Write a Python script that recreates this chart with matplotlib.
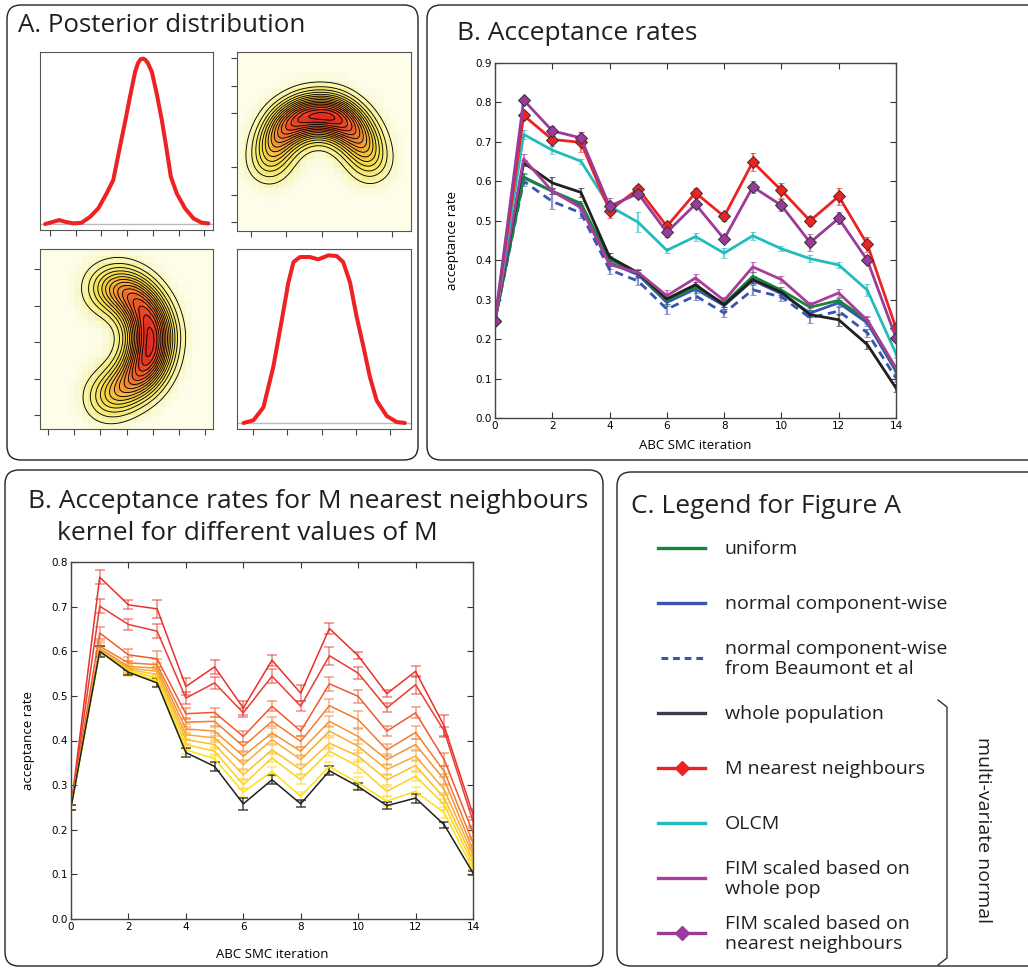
import numpy as np
import matplotlib
matplotlib.use('Agg')
import matplotlib.pyplot as plt
from matplotlib.patches import FancyBboxPatch
from matplotlib.colors import LinearSegmentedColormap, to_rgba

W, H = 1028, 968

# ---- panel A: marginal posteriors (theta1, theta2) ----
t1_x = [-0.19, 0.13, 0.36, 0.58, 0.91, 1.23, 1.56, 1.88, 2.20, 2.46, 2.72, 2.92,
        3.11, 3.31, 3.42, 3.52, 3.61, 3.70, 3.80, 3.96, 4.15, 4.35, 4.54, 4.70,
        4.93, 5.25, 5.58, 5.90, 6.16]
t1_y = [0.0, 0.014, 0.024, 0.014, 0.004, 0.008, 0.044, 0.095, 0.185, 0.266, 0.467,
        0.618, 0.769, 0.920, 0.972, 0.996, 1.0, 0.994, 0.975, 0.920, 0.789, 0.628,
        0.447, 0.286, 0.185, 0.095, 0.034, 0.008, 0.004]
t2_x = [-0.28, 0.01, 0.30, 0.59, 0.84, 1.03, 1.18, 1.37, 1.66, 1.90, 2.20, 2.44,
        2.63, 2.83, 3.02, 3.22, 3.41, 3.61, 3.90, 4.19, 4.43]
t2_y = [0.0, 0.016, 0.093, 0.335, 0.618, 0.840, 0.962, 0.992, 0.992, 0.978, 1.002,
        0.998, 0.962, 0.840, 0.638, 0.457, 0.275, 0.133, 0.042, 0.006, 0.0]

# joint posterior ridges: (cx, cy, weight)
# x = theta2, y = theta1 (arch)
joint_21 = [(0.50, 2.20, 0.35), (0.68, 2.92, 0.60), (1.00, 3.52, 0.85),
            (1.48, 3.85, 1.0), (1.97, 3.95, 0.90), (2.42, 3.85, 0.95),
            (2.84, 3.47, 0.80), (3.17, 2.90, 0.60), (3.40, 2.22, 0.35)]
joint_21_sd = (0.38, 0.52)
# x = theta1, y = theta2 (crescent)
joint_12 = [(2.15, 3.48, 0.30), (2.78, 3.48, 0.50), (3.36, 3.20, 0.70),
            (3.79, 2.73, 0.85), (3.99, 2.18, 0.95), (3.85, 1.59, 1.0),
            (3.48, 1.07, 0.75), (2.84, 0.70, 0.50), (2.20, 0.46, 0.30)]
joint_12_sd = (0.56, 0.42)

# ---- panel B: acceptance rates per kernel ----
iters = list(range(15))
uniform = [0.247, 0.609, 0.575, 0.544, 0.402, 0.366, 0.298, 0.332, 0.290, 0.359,
           0.324, 0.281, 0.298, 0.248, 0.123]
uniform_err = [0.004, 0.010, 0.008, 0.006, 0.008, 0.008, 0.008, 0.008, 0.008, 0.010,
               0.008, 0.006, 0.006, 0.008, 0.008]
normal_cw = [0.247, 0.611, 0.575, 0.537, 0.393, 0.363, 0.293, 0.327, 0.285, 0.349,
             0.315, 0.266, 0.292, 0.241, 0.118]
normal_cw_err = [0.004, 0.010, 0.008, 0.008, 0.008, 0.008, 0.008, 0.010, 0.008, 0.010,
                 0.008, 0.008, 0.008, 0.008, 0.008]
beaumont = [0.247, 0.600, 0.549, 0.520, 0.376, 0.347, 0.276, 0.310, 0.266, 0.325,
            0.307, 0.254, 0.271, 0.216, 0.101]
beaumont_err = [0.004, 0.012, 0.018, 0.012, 0.012, 0.010, 0.012, 0.012, 0.010, 0.012,
                0.010, 0.012, 0.010, 0.010, 0.010]
whole_pop = [0.247, 0.647, 0.596, 0.572, 0.408, 0.368, 0.302, 0.338, 0.287, 0.351,
             0.319, 0.262, 0.249, 0.186, 0.076]
whole_pop_err = [0.004, 0.008, 0.015, 0.012, 0.010, 0.008, 0.006, 0.006, 0.006, 0.008,
                 0.006, 0.006, 0.015, 0.010, 0.010]
fim_pop = [0.247, 0.657, 0.575, 0.533, 0.389, 0.369, 0.310, 0.355, 0.298, 0.383,
           0.351, 0.287, 0.317, 0.248, 0.127]
fim_pop_err = [0.004, 0.012, 0.008, 0.008, 0.012, 0.010, 0.014, 0.010, 0.010, 0.012,
               0.010, 0.008, 0.010, 0.010, 0.008]
olcm = [0.247, 0.719, 0.679, 0.651, 0.537, 0.496, 0.425, 0.460, 0.418, 0.462,
        0.429, 0.404, 0.388, 0.324, 0.163]
olcm_err = [0.004, 0.012, 0.010, 0.006, 0.008, 0.025, 0.006, 0.010, 0.012, 0.010,
            0.006, 0.008, 0.008, 0.015, 0.010]
m_nn = [0.247, 0.767, 0.706, 0.699, 0.526, 0.581, 0.486, 0.571, 0.511, 0.649,
        0.577, 0.500, 0.562, 0.440, 0.228]
m_nn_err = [0.004, 0.010, 0.008, 0.025, 0.020, 0.010, 0.010, 0.012, 0.012, 0.022,
            0.018, 0.012, 0.022, 0.020, 0.010]
fim_nn = [0.247, 0.806, 0.728, 0.710, 0.537, 0.569, 0.471, 0.542, 0.454, 0.586,
          0.539, 0.445, 0.506, 0.400, 0.203]
fim_nn_err = [0.004, 0.006, 0.012, 0.015, 0.020, 0.010, 0.012, 0.008, 0.008, 0.015,
              0.015, 0.022, 0.015, 0.006, 0.006]

# ---- panel B (bottom): M nearest neighbours, one row per value of M ----
nn_rates = [
    [0.250, 0.766, 0.704, 0.695, 0.521, 0.565, 0.473, 0.580, 0.506, 0.651, 0.590, 0.505, 0.555, 0.432, 0.234],
    [0.250, 0.701, 0.660, 0.645, 0.495, 0.529, 0.462, 0.544, 0.477, 0.590, 0.551, 0.473, 0.525, 0.421, 0.219],
    [0.250, 0.641, 0.592, 0.583, 0.460, 0.463, 0.409, 0.477, 0.421, 0.527, 0.499, 0.421, 0.462, 0.357, 0.193],
    [0.250, 0.611, 0.574, 0.570, 0.441, 0.443, 0.387, 0.443, 0.398, 0.478, 0.447, 0.379, 0.418, 0.331, 0.170],
    [0.250, 0.606, 0.566, 0.562, 0.426, 0.421, 0.365, 0.417, 0.376, 0.443, 0.409, 0.357, 0.391, 0.312, 0.155],
    [0.250, 0.602, 0.562, 0.555, 0.413, 0.406, 0.346, 0.402, 0.357, 0.421, 0.387, 0.335, 0.365, 0.290, 0.144],
    [0.250, 0.600, 0.559, 0.548, 0.402, 0.391, 0.323, 0.379, 0.335, 0.394, 0.365, 0.312, 0.344, 0.271, 0.133],
    [0.250, 0.600, 0.557, 0.540, 0.391, 0.376, 0.301, 0.361, 0.312, 0.376, 0.342, 0.286, 0.320, 0.256, 0.122],
    [0.250, 0.600, 0.555, 0.533, 0.379, 0.359, 0.284, 0.331, 0.275, 0.342, 0.305, 0.264, 0.286, 0.238, 0.111],
]
nn_err = [
    [0.006, 0.015, 0.010, 0.020, 0.020, 0.016, 0.015, 0.012, 0.018, 0.012, 0.008, 0.008, 0.012, 0.025, 0.012],
    [0.006, 0.016, 0.012, 0.016, 0.014, 0.014, 0.010, 0.016, 0.012, 0.020, 0.014, 0.010, 0.020, 0.010, 0.010],
    [0.006, 0.014, 0.014, 0.018, 0.012, 0.010, 0.012, 0.012, 0.012, 0.016, 0.014, 0.012, 0.012, 0.014, 0.010],
    [0.006, 0.012, 0.012, 0.012, 0.010, 0.010, 0.010, 0.010, 0.012, 0.014, 0.018, 0.014, 0.014, 0.012, 0.010],
    [0.006, 0.012, 0.012, 0.012, 0.010, 0.010, 0.010, 0.010, 0.010, 0.012, 0.016, 0.012, 0.012, 0.012, 0.010],
    [0.006, 0.010, 0.010, 0.010, 0.010, 0.010, 0.010, 0.010, 0.010, 0.012, 0.014, 0.012, 0.012, 0.012, 0.010],
    [0.006, 0.010, 0.010, 0.010, 0.010, 0.010, 0.010, 0.010, 0.010, 0.012, 0.014, 0.012, 0.012, 0.012, 0.010],
    [0.006, 0.010, 0.010, 0.010, 0.010, 0.010, 0.010, 0.010, 0.010, 0.010, 0.014, 0.010, 0.010, 0.012, 0.010],
    [0.006, 0.010, 0.010, 0.010, 0.010, 0.010, 0.010, 0.010, 0.010, 0.010, 0.014, 0.010, 0.010, 0.012, 0.010],
]
whole_nn = [0.250, 0.600, 0.553, 0.529, 0.373, 0.342, 0.258, 0.312, 0.258, 0.332,
            0.297, 0.254, 0.271, 0.211, 0.103]
whole_nn_err = [0.006, 0.012, 0.006, 0.010, 0.010, 0.010, 0.014, 0.010, 0.008, 0.010,
                0.008, 0.008, 0.010, 0.006, 0.004]

legend_labels = ['uniform', 'normal component-wise',
                 'normal component-wise\nfrom Beaumont et al', 'whole population',
                 'M nearest neighbours', 'OLCM', 'FIM scaled based on\nwhole pop',
                 'FIM scaled based on\nnearest neighbours']

TITLE_FONT = 'Open Sans'
plt.rcParams['font.family'] = ['DejaVu Sans']

C_GREEN = '#16853c'
C_BLUE = '#3a55b0'
C_BLACK = '#202020'
C_LEGBLACK = '#3a3d52'
C_RED = '#ee2222'
C_CYAN = '#22bcbc'
C_MAG = '#aa3c9c'
C_PURP = '#9a3a9a'
NN_COLORS = ['#e8302a', '#ea3c30', '#ee5a2e', '#f27a32', '#f59236', '#f8aa32',
             '#fbbf28', '#fdd21c', '#fee012']

dens_cmap = LinearSegmentedColormap.from_list(
    'post', [(0.0, '#fdfde9'), (0.04, '#f9f6bc'), (0.10, '#f6ef88'),
             (0.24, '#f4e04c'), (0.40, '#f3bd3c'), (0.56, '#f09034'),
             (0.75, '#eb5e2b'), (1.0, '#e2261f')])


def rect(x0, y0, x1, y1):
    return [x0 / W, 1 - y1 / H, (x1 - x0) / W, (y1 - y0) / H]


def style_a(ax, left):
    for s in ax.spines.values():
        s.set_color('#555555')
        s.set_linewidth(0.8)
    ax.tick_params(direction='out', length=4, width=0.8, color='#444444',
                   labelbottom=False, labelleft=False, left=left)


def marginal(ax, x, y, xlim, ticks):
    ax.axhline(0, color='#bbbbbb', lw=1.0, zorder=1)
    ax.plot(x, y, color=C_RED, lw=2.9, solid_capstyle='round',
            solid_joinstyle='round', zorder=2)
    ax.set_xlim(*xlim)
    ax.set_ylim(-0.036, 1.04)
    ax.set_xticks(ticks)
    ax.set_yticks([])
    style_a(ax, False)


def joint(ax, ridge, sd, xlim, ylim, xticks, yticks):
    sx, sy = sd

    def dens(n):
        gx = np.linspace(xlim[0], xlim[1], n)
        gy = np.linspace(ylim[0], ylim[1], n)
        X, Y = np.meshgrid(gx, gy)
        Z = np.zeros_like(X)
        for cx, cy, w in ridge:
            Z += w * np.exp(-0.5 * (((X - cx) / sx) ** 2 + ((Y - cy) / sy) ** 2))
        return X, Y, Z
    _, _, Zc = dens(25)
    X, Y, Zf = dens(160)
    top = Zf.max()
    ax.imshow(Zc / top, extent=(xlim[0], xlim[1], ylim[0], ylim[1]),
              origin='lower', cmap=dens_cmap, vmin=0, vmax=1,
              interpolation='nearest', aspect='auto')
    ax.contour(X, Y, Zf / top, levels=np.linspace(0.06, 0.97, 15),
               colors='k', linewidths=0.65)
    ax.set_xlim(*xlim)
    ax.set_ylim(*ylim)
    ax.set_xticks(xticks)
    ax.set_yticks(yticks)
    style_a(ax, True)


def rate_axes(ax, ymax, pad_x, pad_y):
    ax.set_xlim(0, 14)
    ax.set_ylim(0, ymax)
    ax.set_xticks(range(0, 15, 2))
    ax.set_yticks(np.arange(0, ymax + 0.001, 0.1))
    ax.yaxis.set_major_formatter(plt.FormatStrFormatter('%.1f'))
    ax.tick_params(direction='in', top=True, right=True, length=4, width=0.8,
                   labelsize=7.5, pad=2, color='#333333')
    for s in ax.spines.values():
        s.set_color('#444444')
        s.set_linewidth(1.0)
    ax.set_xlabel('ABC SMC iteration', family=TITLE_FONT, fontsize=9.5,
                  labelpad=pad_x)
    ax.set_ylabel('acceptance rate', family=TITLE_FONT, fontsize=9.5,
                  labelpad=pad_y)


fig = plt.figure(figsize=(W / 100, H / 100), dpi=100)

# overlay in pixel coordinates for panel frames, titles and the legend
ov = fig.add_axes([0, 0, 1, 1])
ov.set_xlim(0, W)
ov.set_ylim(H, 0)
ov.axis('off')
for x0, y0, x1, y1 in [(7, 5, 418, 460), (427, 5, 1045, 460),
                       (5, 470, 603, 966), (617, 472, 1045, 966)]:
    ov.add_patch(FancyBboxPatch((x0, y0), x1 - x0, y1 - y0,
                                boxstyle='round,pad=0,rounding_size=14',
                                fc='none', ec='#222222', lw=1.0))

TS = 19
ov.text(18, 32, 'A. Posterior distribution', family=TITLE_FONT, fontsize=TS - 0.4,
        color='#231f20', va='baseline')
ov.text(457, 40, 'B. Acceptance rates', family=TITLE_FONT, fontsize=TS,
        color='#231f20', va='baseline')
ov.text(28, 508, 'B. Acceptance rates for M nearest neighbours',
        family=TITLE_FONT, fontsize=TS, color='#231f20', va='baseline')
ov.text(57, 540, 'kernel for different values of M', family=TITLE_FONT,
        fontsize=TS, color='#231f20', va='baseline')
ov.text(631, 513, 'C. Legend for Figure A', family=TITLE_FONT, fontsize=TS,
        color='#231f20', va='baseline')

# legend for panel B
leg_y = [548, 603, 658, 713, 768, 823, 878, 933]
leg_styles = [(C_GREEN, '-', None), (C_BLUE, '-', None), (C_BLUE, '--', None),
              (C_LEGBLACK, '-', None), (C_RED, '-', 'D'), (C_CYAN, '-', None),
              (C_MAG, '-', None), (C_PURP, '-', 'D')]
for yy, lab, (c, ls, mk) in zip(leg_y, legend_labels, leg_styles):
    if ls == '--':
        ov.plot([661, 705], [yy, yy], color=c, lw=2.2, dashes=(2.2, 1.6))
    else:
        ov.plot([658, 705], [yy, yy], color=c, lw=2.4)
    if mk:
        ov.plot([682], [yy], marker=mk, color=c, ms=7.5, mec=c)
    ov.text(725, yy + 1, lab, family=TITLE_FONT, fontsize=14, color='#231f20',
            va='center', linespacing=1.2)

ov.plot([938, 947, 947, 938], [700, 707, 958, 965], color='#333333', lw=1.0)
ov.text(983, 830, 'multi-variate normal', family=TITLE_FONT, fontsize=14,
        rotation=270, ha='center', va='center', color='#231f20')

# panel A
ax = fig.add_axes(rect(40, 52, 213, 230))
marginal(ax, t1_x, t1_y, (-0.39, 6.34), range(7))
ax = fig.add_axes(rect(237, 52, 411, 231))
joint(ax, joint_21, joint_21_sd, (-0.40, 4.54), (-0.33, 6.23), range(5),
      [0, 1, 2, 4, 5, 6])
ax = fig.add_axes(rect(40, 249, 213, 429))
joint(ax, joint_12, joint_12_sd, (-0.31, 6.30), (-0.38, 4.55), range(7), range(5))
ax = fig.add_axes(rect(237, 249, 411, 429))
marginal(ax, t2_x, t2_y, (-0.47, 4.61), range(5))

# panel B: acceptance rates
ax = fig.add_axes(rect(495, 63, 896, 418))
series = [(beaumont, beaumont_err, C_BLUE, '--', None),
          (normal_cw, normal_cw_err, C_BLUE, '-', None),
          (uniform, uniform_err, C_GREEN, '-', None),
          (whole_pop, whole_pop_err, C_BLACK, '-', None),
          (fim_pop, fim_pop_err, C_MAG, '-', None),
          (olcm, olcm_err, C_CYAN, '-', None),
          (m_nn, m_nn_err, C_RED, '-', 'D'),
          (fim_nn, fim_nn_err, C_PURP, '-', 'D')]
for vals, err, c, ls, mk in series:
    ax.errorbar(iters, vals, yerr=err, color=c, ls=ls, lw=2.0,
                dashes=(3, 2) if ls == '--' else (None, None),
                ecolor=to_rgba(c, 0.6), elinewidth=1.6, capsize=2.2,
                capthick=1.4, marker=mk, ms=6.5, mfc=c, mec='#333333', mew=0.7)
rate_axes(ax, 0.9, 6, 12)

# panel B bottom: different M
ax = fig.add_axes(rect(71, 562, 473, 919))
for vals, err, c in zip(nn_rates, nn_err, NN_COLORS):
    ax.errorbar(iters, vals, yerr=err, color=c, lw=1.1,
                ecolor=to_rgba(c, 0.55), elinewidth=1.2, capsize=3.6, capthick=1.2)
ax.errorbar(iters, whole_nn, yerr=whole_nn_err, color=C_BLACK, lw=1.1,
            ecolor=to_rgba(C_BLACK, 0.75), elinewidth=1.2, capsize=3.6, capthick=1.2)
rate_axes(ax, 0.8, 12, 12)

fig.savefig('out.png', dpi=100)
